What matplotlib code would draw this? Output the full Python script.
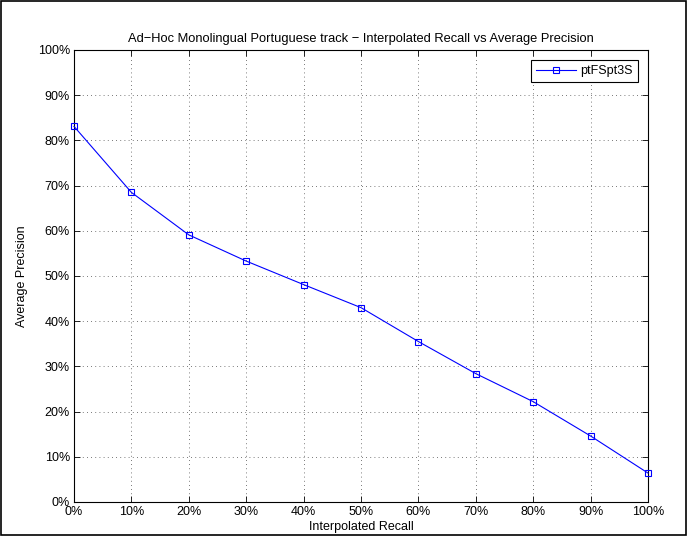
import matplotlib
matplotlib.use("Agg")
import matplotlib.pyplot as plt
from matplotlib.ticker import FuncFormatter

plt.rcParams["font.family"] = ["Liberation Sans", "DejaVu Sans"]

# interpolated recall levels and average precision (fractions)
recall = [0.0, 0.1, 0.2, 0.3, 0.4, 0.5, 0.6, 0.7, 0.8, 0.9, 1.0]
precision = [0.831, 0.685, 0.591, 0.533, 0.481, 0.430, 0.355, 0.284, 0.222, 0.146, 0.064]
run_name = "ptFSpt3S"
title = "Ad\u2212Hoc Monolingual Portuguese track \u2212 Interpolated Recall vs Average Precision"

fig = plt.figure(figsize=(6.87, 5.36), dpi=100)
ax = fig.add_axes([74 / 687, 1 - 502 / 536, 574 / 687, 452 / 536])

ax.plot(recall, precision, color="blue", linewidth=0.8, marker="s",
        markersize=5, markerfacecolor="none", markeredgecolor="blue",
        markeredgewidth=0.8, label=run_name, clip_on=False, zorder=3)

ax.set_xlim(0, 1)
ax.set_ylim(0, 1)
ticks = [i / 10 for i in range(11)]
ax.set_xticks(ticks)
ax.set_yticks(ticks)
pct = FuncFormatter(lambda v, p: f"{v * 100:.0f}%")
ax.xaxis.set_major_formatter(pct)
ax.yaxis.set_major_formatter(pct)
ax.tick_params(direction="in", length=4, width=0.6, labelsize=9, colors="black",
               top=True, right=True, pad=3)
ax.grid(True, linestyle=(0, (1, 4)), color="black", linewidth=0.6, alpha=0.7)
for s in ax.spines.values():
    s.set_linewidth(0.8)

ax.set_title(title, fontsize=9.3, pad=6)
ax.set_xlabel("Interpolated Recall", fontsize=9, labelpad=2)
ax.set_ylabel("Average Precision", fontsize=9, labelpad=7)

leg = ax.legend(loc="upper right", fontsize=9, fancybox=False, framealpha=1,
                edgecolor="black", handlelength=3.2, handletextpad=0.4,
                borderaxespad=0.8)
leg.get_frame().set_linewidth(0.8)

# figure border
fig.patches.append(plt.Rectangle((0.001, 0.001), 0.998, 0.998, transform=fig.transFigure,
                                 fill=False, edgecolor="black", linewidth=1.2))

fig.savefig("out.png", dpi=100)
